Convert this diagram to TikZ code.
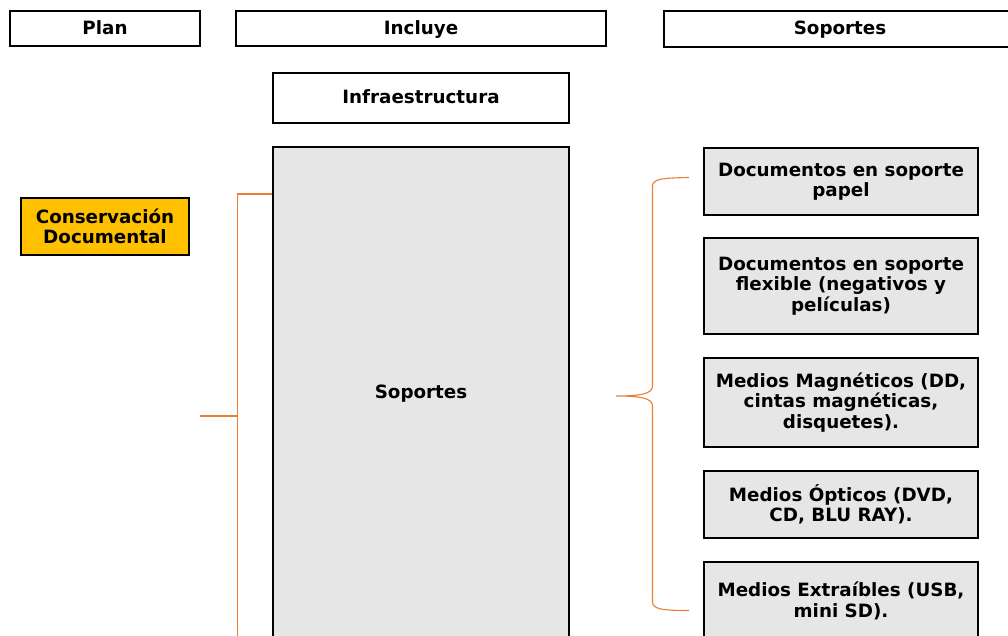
\documentclass[tikz,border=0pt]{standalone}
\usepackage{fontspec}
\setmainfont{DejaVu Sans}
\definecolor{boxgrey}{RGB}{230,230,230}
\definecolor{gold}{RGB}{255,192,0}
\definecolor{bracecol}{RGB}{237,125,49}
\begin{document}
\begin{tikzpicture}[x=1pt,y=-1pt,
  txt/.style={font=\fontsize{18.3}{20.5}\selectfont\bfseries,align=center,inner sep=0pt},
  hdr/.style={txt,draw=black,line width=2.2pt,fill=white,minimum height=35pt,text height=11.5pt,text depth=0pt},
  gbox/.style={txt,draw=black,line width=1.6pt,fill=boxgrey,minimum width=274pt},
  oline/.style={draw=bracecol,line width=1.1pt}]
\useasboundingbox (0,0) rectangle (1008,635);
\clip (0,0) rectangle (1008,635);
\fill[white] (0,0) rectangle (1008,635);
% headers
\node[hdr,minimum width=190pt] (plan) at (105,28.5) {Plan};
\node[hdr,minimum width=370pt] (incl) at (421,28.5) {Incluye};
\node[hdr,minimum width=352pt,minimum height=36pt] (soph) at (840,29) {Soportes};
% left bracket
\coordinate (lt) at (237.5,194);
\coordinate (lm) at (237.5,416);
\coordinate (lc) at (200,416);
\coordinate (lb) at (237.5,640);
% middle column
\node[txt,draw=black,line width=2pt,fill=white,minimum width=296pt,minimum height=50pt,text height=11.5pt,text depth=0pt] (infra) at (421,97.5) {Infraestructura};
\node[txt,draw=black,line width=2.2pt,fill=boxgrey,minimum width=296pt,minimum height=493pt] (sop) at (421,393.5) {Soportes};
\draw[oline] (sop.west |- lt) -- (lt) -- (lb);
\draw[oline] (lc) -- (lm);
% plan
\node[txt,draw=black,line width=2.2pt,fill=gold,minimum width=168pt,minimum height=57pt] (cons) at (105,226.5) {Conservación\\Documental};
% right column
\node[gbox,minimum height=67pt] (r1) at (841,181.5) {Documentos en soporte\\papel};
\node[gbox,minimum height=96pt] (r2) at (841,286) {Documentos en soporte\\flexible (negativos y\\películas)};
\node[gbox,minimum height=89pt] (r3) at (841,402.5) {Medios Magnéticos (DD,\\cintas magnéticas,\\disquetes).};
\node[gbox,minimum height=67pt] (r4) at (841,504.5) {Medios Ópticos (DVD,\\CD, BLU RAY).};
\node[gbox,minimum height=78pt] (r5) at (841,601) {Medios Extraíbles (USB,\\mini SD).};
% right brace
\coordinate (bt) at (689,177.5);
\coordinate (bm) at (616,396);
\coordinate (bb) at (689,610.5);
\draw[oline] (bt) .. controls (662,178) and (652.5,179) .. (652.5,186)
  -- (652.5,386) .. controls (652.5,394) and (640,396) .. (bm)
  .. controls (640,396) and (652.5,398) .. (652.5,406)
  -- (652.5,602) .. controls (652.5,609) and (662,610.5) .. (bb);
\end{tikzpicture}
\end{document}
